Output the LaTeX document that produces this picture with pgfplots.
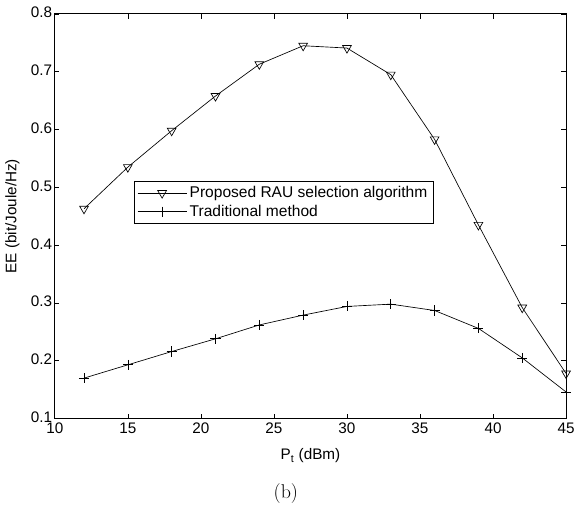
\documentclass[border=0pt]{standalone}
\usepackage{fontspec}
\setsansfont{Liberation Sans}
\usepackage{pgfplots}
\pgfplotsset{compat=1.18}

\begin{document}
\begin{tikzpicture}
\begin{axis}[
    width=384.75pt, height=304.5pt,
    scale only axis,
    xmin=10, xmax=45, ymin=0.1, ymax=0.8,
    xtick={10,15,...,45},
    ytick={0.1,0.2,...,0.8},
    yticklabel style={/pgf/number format/fixed,/pgf/number format/fixed zerofill,/pgf/number format/precision=1},
    /pgf/number format/assume math mode=true,
    tick align=inside,
    major tick length=3.5pt,
    tick style={black, line width=0.5pt},
    axis line style={line width=0.7pt},
    font=\sffamily\fontsize{11.5}{13}\selectfont,
    xticklabel style={yshift=0pt},
    yticklabel style={xshift=1.5pt, yshift=1pt},
    xlabel={P\textsubscript{t} (dBm)},
    ylabel={EE (bit/Joule/Hz)},
    every axis x label/.style={at={(axis description cs:0.5,-0.092)}, anchor=center},
    every axis y label/.style={at={(axis description cs:-0.083,0.5)}, rotate=90, anchor=center},
    legend style={at={(axis description cs:0.154,0.586)}, anchor=north west,
        draw=black, line width=0.5pt, inner xsep=2.5pt, inner ysep=1.5pt,
        font=\sffamily\fontsize{11.7}{13}\selectfont, row sep=0pt},
    legend cell align=left,
    legend image code/.code={\draw[mark repeat=2,mark phase=2] plot coordinates {(0cm,0cm) (0.65cm,0cm) (1.3cm,0cm)};},
    clip=false,
]
\addplot[black, line width=0.5pt, mark=triangle, mark size=3.8pt, mark options={rotate=180, fill=white, line width=0.5pt}]
coordinates {(12,0.463) (15,0.535) (18,0.598) (21,0.658) (24,0.713) (27,0.745) (30,0.741) (33,0.695) (36,0.583) (39,0.435) (42,0.292) (45,0.178)};
\addplot[black, line width=0.5pt, mark=+, mark size=3.8pt, mark options={line width=0.5pt}]
coordinates {(12,0.170) (15,0.193) (18,0.216) (21,0.238) (24,0.262) (27,0.279) (30,0.294) (33,0.298) (36,0.287) (39,0.256) (42,0.205) (45,0.146)};
\legend{Proposed RAU selection algorithm, Traditional method}
\node[font=\rmfamily\fontsize{15}{17}\selectfont] at (axis description cs:0.452,-0.185) {(b)};
\path (axis description cs:-0.1072,-0.2118) rectangle (axis description cs:1.0214,1.0345);
\end{axis}
\end{tikzpicture}
\end{document}
